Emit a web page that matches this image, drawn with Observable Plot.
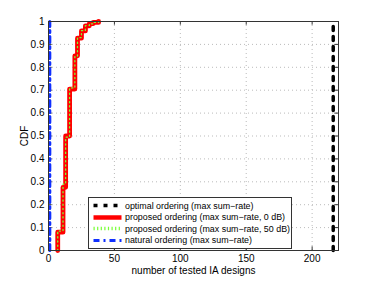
<!DOCTYPE html>
<html>
<head>
<meta charset="utf-8">
<script src="https://cdn.jsdelivr.net/npm/d3@7"></script>
<script src="https://cdn.jsdelivr.net/npm/@observablehq/plot@0.6"></script>
<style>
  html, body { margin: 0; padding: 0; background: #fff; }
  #wrap { position: relative; width: 374px; height: 281px; font-family: "Liberation Sans", Arial, sans-serif; }
  #legend { position: absolute; left: 88px; top: 197px; width: 204px; height: 52px; background: #fff; border: 1px solid #333; box-sizing: border-box; font-size: 8.9px; color: #000; }
  .row { position: absolute; left: 4px; height: 11px; display: flex; align-items: center; white-space: nowrap; }
  .row svg { margin-right: 3px; }
</style>
</head>
<body>
<div id="wrap"></div>
<script>
// ---- data ----
const xTicks = [0, 50, 100, 150, 200];
const yTicks = [0, 0.1, 0.2, 0.3, 0.4, 0.5, 0.6, 0.7, 0.8, 0.9, 1];
const yTickLabels = ["0", "0.1", "0.2", "0.3", "0.4", "0.5", "0.6", "0.7", "0.8", "0.9", "1"];

// proposed ordering, 0 dB (empirical CDF steps)
const prop0X   = [7, 7,    11,    13,   16,    20,   22,    25,    28,    31,    34,    38];
const prop0CDF = [0, 0.08, 0.276, 0.50, 0.705, 0.85, 0.927, 0.959, 0.981, 0.991, 0.996, 1];
// proposed ordering, 50 dB
const prop50X   = [7, 7,     11,   13,    16,   20,    22,   25,   28,    31,   34,    38];
const prop50CDF = [0, 0.085, 0.29, 0.495, 0.71, 0.847, 0.93, 0.96, 0.982, 0.99, 0.996, 1];
// optimal ordering (all designs tested)
const optX = [216, 216];
const optCDF = [0, 1];
// natural ordering (first design)
const natX = [1, 1];
const natCDF = [0, 1];

const legendLabels = [
  "optimal ordering (max sum\u2212rate)",
  "proposed ordering (max sum\u2212rate, 0 dB)",
  "proposed ordering (max sum\u2212rate, 50 dB)",
  "natural ordering (max sum\u2212rate)"
];

const zip = (xs, ys) => xs.map((x, i) => ({x, y: ys[i]}));
const prop0 = zip(prop0X, prop0CDF);
const prop50 = zip(prop50X, prop50CDF);
const opt = zip(optX, optCDF);
const nat = zip(natX, natCDF);

const tickLenY = 0.016;   // inward tick length in y-units
const tickLenX = 2.8;     // inward tick length in x-units

const chart = Plot.plot({
  width: 374,
  height: 281,
  marginLeft: 48,
  marginRight: 36,
  marginTop: 21,
  marginBottom: 31,
  style: {fontFamily: "Liberation Sans, Arial, sans-serif", fontSize: "10px", color: "#000", background: "#fff"},
  x: {domain: [0, 220]},
  y: {domain: [0, 1]},
  marks: [
    // grid
    Plot.ruleX(xTicks.slice(1), {stroke: "#aaa", strokeDasharray: "1,3", strokeWidth: 0.8}),
    Plot.ruleY(yTicks.slice(1, -1), {stroke: "#aaa", strokeDasharray: "1,3", strokeWidth: 0.8}),
    // inward ticks (bottom, top, left, right)
    Plot.ruleX(xTicks, {y1: 0, y2: tickLenY, stroke: "#333"}),
    Plot.ruleX(xTicks, {y1: 1, y2: 1 - tickLenY, stroke: "#333"}),
    Plot.ruleY(yTicks, {x1: 0, x2: tickLenX, stroke: "#333"}),
    Plot.ruleY(yTicks, {x1: 220, x2: 220 - tickLenX, stroke: "#333"}),
    // series
    Plot.line(opt, {x: "x", y: "y", stroke: "#000", strokeWidth: 3.5, strokeDasharray: "4,6"}),
    Plot.line(prop0, {x: "x", y: "y", curve: "step-after", stroke: "#ff0000", strokeWidth: 4.8}),
    Plot.line(prop50, {x: "x", y: "y", curve: "step-after", stroke: "#77ff33", strokeWidth: 1.3, strokeDasharray: "1.2,3"}),
    Plot.line(nat, {x: "x", y: "y", stroke: "#1030ff", strokeWidth: 3, strokeDasharray: "6,4,2,4"}),
    Plot.frame({stroke: "#333", strokeWidth: 1}),
    // axes
    Plot.axisX({ticks: xTicks, tickSize: 0, tickPadding: 4, label: "number of tested IA designs", labelAnchor: "center", labelArrow: "none", labelOffset: 23}),
    Plot.axisY({ticks: yTicks, tickSize: 0, tickPadding: 4, tickFormat: (d, i) => yTickLabels[i], label: "CDF", labelAnchor: "center", labelArrow: "none", labelOffset: 28})
  ]
});

const wrap = document.getElementById("wrap");
wrap.appendChild(chart);

// legend
const legend = document.createElement("div");
legend.id = "legend";
const samples = [
  {stroke: "#000", w: 3.5, dash: "4,6"},
  {stroke: "#ff0000", w: 4.5, dash: null},
  {stroke: "#77ff33", w: 3.5, dash: "1.2,2.4"},
  {stroke: "#1030ff", w: 3, dash: "6,4,2,4"}
];
const rowTops = [2, 13.5, 25, 36.5];
legendLabels.forEach((label, i) => {
  const row = document.createElement("div");
  row.className = "row";
  row.style.top = rowTops[i] + "px";
  const s = samples[i];
  row.innerHTML = `<svg width="29" height="11"><line x1="0.5" y1="5.5" x2="28.5" y2="5.5" stroke="${s.stroke}" stroke-width="${s.w}" ${s.dash ? `stroke-dasharray="${s.dash}"` : ""}/></svg><span>${label}</span>`;
  legend.appendChild(row);
});
wrap.appendChild(legend);
</script>
</body>
</html>
